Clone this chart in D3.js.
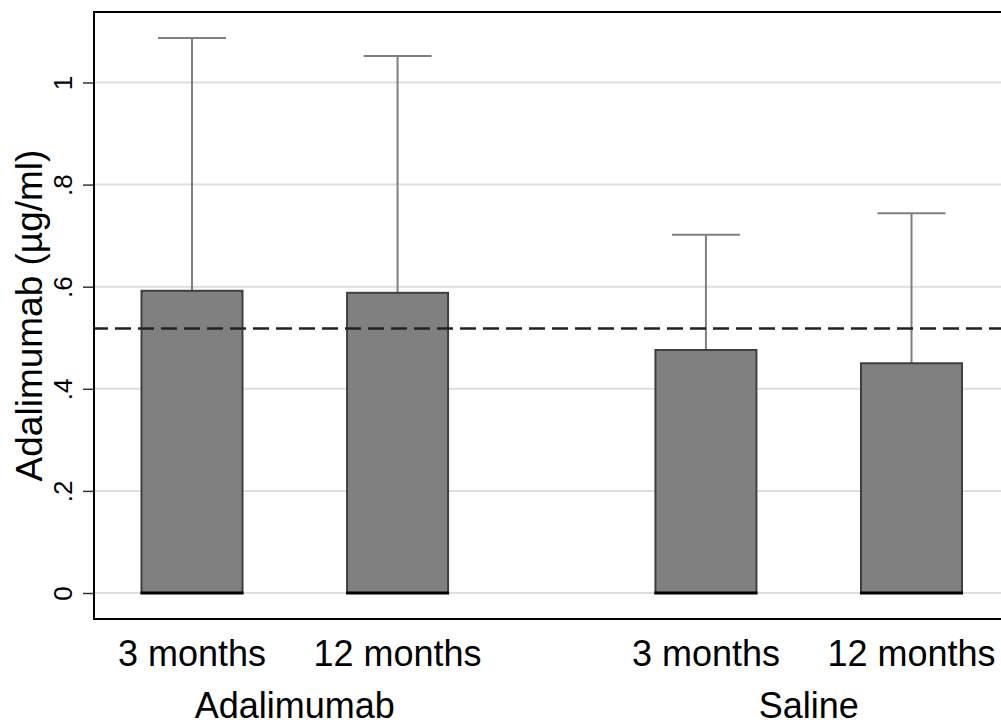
<!DOCTYPE html>
<html>
<head>
<meta charset="utf-8">
<script src="https://cdn.jsdelivr.net/npm/d3@7"></script>
<style>
  html, body { margin: 0; padding: 0; background: #fff; }
  svg { display: block; font-family: "Liberation Sans", Arial, sans-serif; }
</style>
</head>
<body>
<svg id="chart" width="1001" height="726"></svg>
<script>
// Treatment groups and sampling time points
const groups = ["Adalimumab", "Saline"];
const timepoints = ["3 months", "12 months"];
// One entry per bar: group index, time point index
const barGroup = [0, 0, 1, 1];
const barTime = [0, 1, 0, 1];
// Mean concentration (µg/ml) and upper error bar
const means = [0.592, 0.588, 0.476, 0.450];
const upper = [1.087, 1.052, 0.702, 0.744];
// Reference level drawn as dashed line
const threshold = 0.518;
// Y axis ticks
const yTicks = [0, 0.2, 0.4, 0.6, 0.8, 1];
const yTickLabels = ["0", ".2", ".4", ".6", ".8", "1"];

const svg = d3.select("#chart");

const frame = { left: 94, top: 12, right: 1012, bottom: 619 };

const y = d3.scaleLinear().domain([0, 1]).range([593, 82.5]);
// bar slots: groups separated by an extra half slot
const slot = (g, t) => g * 2.5 + t;
const x = d3.scaleLinear().domain([0, 3.5]).range([192, 911.5]);
const barW = 101;
const capW = 68;

// gridlines
svg.append("g")
  .selectAll("line")
  .data(yTicks)
  .join("line")
  .attr("x1", frame.left).attr("x2", frame.right)
  .attr("y1", d => y(d)).attr("y2", d => y(d))
  .attr("stroke", "#dedede").attr("stroke-width", 2);

// y axis ticks and labels
const yAxis = d3.axisLeft(y)
  .tickValues(yTicks)
  .tickFormat((d, i) => yTickLabels[i])
  .tickSize(11)
  .tickPadding(0);
const ag = svg.append("g").attr("transform", `translate(${frame.left},0)`).call(yAxis);
ag.select(".domain").remove();
ag.selectAll(".tick line").attr("stroke", "#333").attr("stroke-width", 1.5);
ag.selectAll(".tick text")
  .attr("x", null).attr("dy", null)
  .attr("transform", "translate(-22.5,0) rotate(-90)")
  .attr("text-anchor", "middle")
  .attr("fill", "#000")
  .style("font-size", "26px")
  .style("font-family", "'Liberation Sans', Arial, sans-serif");

// y axis title
svg.append("text")
  .attr("transform", `translate(42,${(frame.top + frame.bottom) / 2}) rotate(-90)`)
  .attr("text-anchor", "middle")
  .style("font-size", "37px")
  .text("Adalimumab (µg/ml)");

const bars = means.map((m, i) => ({ m, u: upper[i], cx: x(slot(barGroup[i], barTime[i])) }));

// error bars (upper whiskers)
const eg = svg.append("g").attr("stroke", "#7f7f7f").attr("stroke-width", 2);
eg.selectAll("line.v").data(bars).join("line").attr("class", "v")
  .attr("x1", d => d.cx).attr("x2", d => d.cx)
  .attr("y1", d => y(d.m)).attr("y2", d => y(d.u));
eg.selectAll("line.c").data(bars).join("line").attr("class", "c")
  .attr("x1", d => d.cx - capW / 2).attr("x2", d => d.cx + capW / 2)
  .attr("y1", d => y(d.u)).attr("y2", d => y(d.u));

// bars
svg.append("g").selectAll("rect").data(bars).join("rect")
  .attr("x", d => d.cx - barW / 2)
  .attr("width", barW)
  .attr("y", d => y(d.m))
  .attr("height", d => y(0) - y(d.m))
  .attr("fill", "#808080")
  .attr("stroke", "#3f3f3f").attr("stroke-width", 2);

// baseline under each bar
svg.append("g").selectAll("line").data(bars).join("line")
  .attr("x1", d => d.cx - barW / 2 - 1).attr("x2", d => d.cx + barW / 2 + 1)
  .attr("y1", y(0)).attr("y2", y(0))
  .attr("stroke", "#000").attr("stroke-width", 3);

// dashed reference line
svg.append("line")
  .attr("x1", frame.left).attr("x2", frame.right)
  .attr("y1", y(threshold)).attr("y2", y(threshold))
  .attr("stroke", "#222").attr("stroke-width", 2.5)
  .attr("stroke-dasharray", "16 7")
  .attr("stroke-dashoffset", 2);

// plot frame
svg.append("rect")
  .attr("x", frame.left).attr("y", frame.top)
  .attr("width", frame.right - frame.left).attr("height", frame.bottom - frame.top)
  .attr("fill", "none").attr("stroke", "#000").attr("stroke-width", 2);

// x labels: time points
svg.append("g").selectAll("text").data(bars).join("text")
  .attr("x", d => d.cx).attr("y", 666)
  .attr("text-anchor", "middle")
  .style("font-size", "36px")
  .text((d, i) => timepoints[barTime[i]]);

// x labels: groups
svg.append("g").selectAll("text").data(groups).join("text")
  .attr("x", (d, g) => (x(slot(g, 0)) + x(slot(g, 1))) / 2).attr("y", 718)
  .attr("text-anchor", "middle")
  .style("font-size", "36px")
  .text(d => d);
</script>
</body>
</html>
